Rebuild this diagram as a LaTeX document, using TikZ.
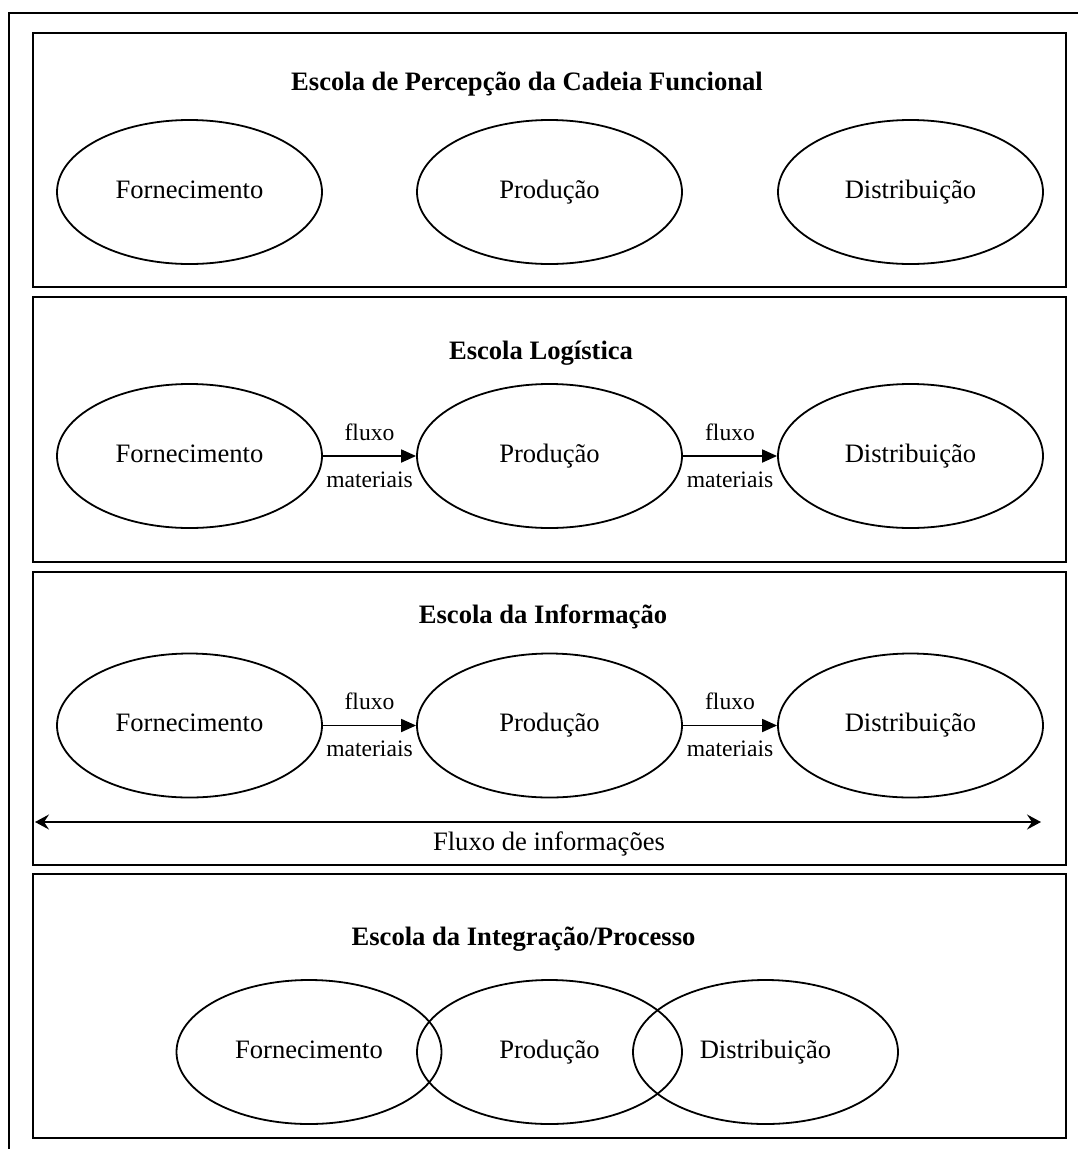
\documentclass[tikz,border=0pt]{standalone}
\usepackage{fontspec}
\setmainfont{Liberation Serif}
\usetikzlibrary{arrows.meta,shapes.geometric}
\begin{document}
\begin{tikzpicture}[x=1pt,y=-1pt,
  frame/.style={line width=2pt},
  panel/.style={draw,line width=2pt,inner sep=0pt,minimum width=1033pt},
  proc/.style={draw,ellipse,line width=1.8pt,minimum width=265pt,minimum height=144pt,inner sep=0pt,text height=18pt,text depth=6pt,font=\fontsize{26.6}{30}\selectfont},
  ttl/.style={anchor=base,inner sep=0pt,font=\fontsize{26.6}{30}\selectfont\bfseries},
  lbl/.style={anchor=base,inner sep=0pt,font=\fontsize{23.6}{28}\selectfont},
  txt/.style={anchor=base,inner sep=0pt,font=\fontsize{26.6}{30}\selectfont},
  matarrow/.style={line width=1.8pt,-{Triangle[length=15pt,width=13pt]}},
  infoarrow/.style={line width=1.8pt,{Stealth[length=14pt,width=15pt,inset=5pt]}-{Stealth[length=14pt,width=15pt,inset=5pt]}},
]
\useasboundingbox (0,0) rectangle (1078,1149);
% outer frame (only top and left edges visible)
\coordinate (otr) at (1078,13);
\coordinate (otl) at (9,13);
\coordinate (obl) at (9,1149);
\draw[frame] (otr) -- (otl) -- (obl);

% panels
\node[panel,minimum height=254pt] (b1) at (549.5,160) {};
\node[panel,minimum height=265pt] (b2) at (549.5,429.5) {};
\node[panel,minimum height=293pt] (b3) at (549.5,718.5) {};
\node[panel,minimum height=264pt] (b4) at (549.5,1006) {};

% titles
\node[ttl] (t1) at (527,90) {Escola de Percepção da Cadeia Funcional};
\node[ttl] (t2) at (541,359) {Escola Logística};
\node[ttl] (t3) at (543,623) {Escola da Informação};
\node[ttl] (t4) at (523.5,945) {Escola da Integração/Processo};

% panel 1
\node[proc] (f1) at (189.5,192) {Fornecimento};
\node[proc] (p1) at (549.5,192) {Produção};
\node[proc] (d1) at (910.5,192) {Distribuição};

% panel 2
\node[proc] (f2) at (189.5,456) {Fornecimento};
\node[proc] (p2) at (549.5,456) {Produção};
\node[proc] (d2) at (910.5,456) {Distribuição};
\draw[matarrow] (f2.east) -- (p2.west);
\draw[matarrow] (p2.east) -- (d2.west);
\path (f2.east) -- (p2.west)
  node[lbl,pos=0.5,yshift=16pt] (l2a) {fluxo}
  node[lbl,pos=0.5,yshift=-31pt] (l2b) {materiais};
\path (p2.east) -- (d2.west)
  node[lbl,pos=0.5,yshift=16pt] (l2c) {fluxo}
  node[lbl,pos=0.5,yshift=-31pt] (l2d) {materiais};

% panel 3
\node[proc] (f3) at (189.5,725.5) {Fornecimento};
\node[proc] (p3) at (549.5,725.5) {Produção};
\node[proc] (d3) at (910.5,725.5) {Distribuição};
\draw[matarrow] (f3.east) -- (p3.west);
\draw[matarrow] (p3.east) -- (d3.west);
\path (f3.east) -- (p3.west)
  node[lbl,pos=0.5,yshift=16pt] (l3a) {fluxo}
  node[lbl,pos=0.5,yshift=-31pt] (l3b) {materiais};
\path (p3.east) -- (d3.west)
  node[lbl,pos=0.5,yshift=16pt] (l3c) {fluxo}
  node[lbl,pos=0.5,yshift=-31pt] (l3d) {materiais};
\coordinate (ia) at (35,822);
\coordinate (ib) at (1041,822);
\draw[infoarrow] (ia) -- (ib);
\node[txt] (fi) at (549,850) {Fluxo de informações};

% panel 4
\node[proc] (f4) at (309,1052) {Fornecimento};
\node[proc] (p4) at (549.5,1052) {Produção};
\node[proc] (d4) at (765.5,1052) {Distribuição};
\end{tikzpicture}
\end{document}
